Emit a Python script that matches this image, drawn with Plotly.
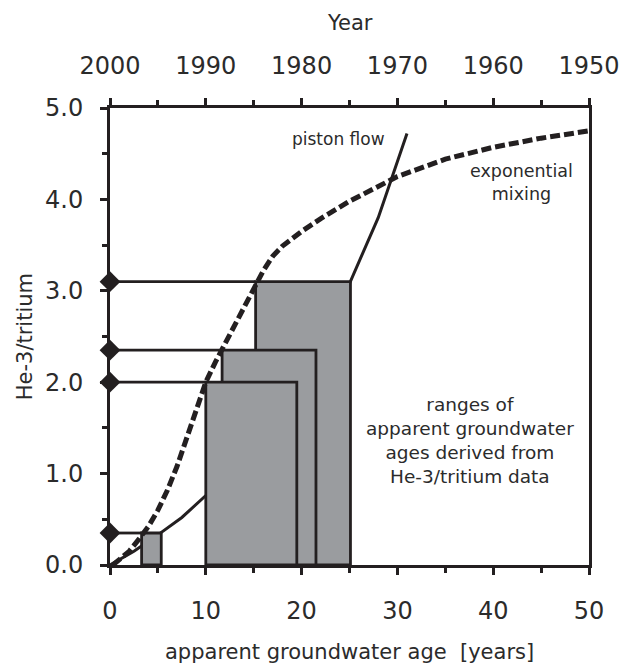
import plotly.graph_objects as go

# Piston-flow model: He-3/tritium ratio versus apparent age
piston_age = [0, 2.5, 5, 7.5, 10, 15, 20, 25, 28, 31]
piston_ratio = [0, 0.15, 0.33, 0.52, 0.76, 1.32, 2.08, 3.08, 3.80, 4.72]

# Exponential-mixing model curve
mix_age = [0.3, 1, 2, 3, 4, 5, 6, 7, 8, 9, 10, 11, 12, 13, 14, 15, 16, 17, 18, 19,
           20, 22, 25, 30, 35, 40, 45, 50]
mix_ratio = [0.0, 0.06, 0.15, 0.28, 0.42, 0.60, 0.82, 1.08, 1.38, 1.70, 2.00, 2.22,
             2.42, 2.63, 2.83, 3.02, 3.22, 3.38, 3.49, 3.57, 3.65, 3.79, 3.98, 4.25,
             4.44, 4.57, 4.67, 4.75]

# Measured ratios and the resulting apparent-age ranges (exp. mixing .. piston flow)
sample_ratio = [3.1, 2.35, 2.0, 0.35]
range_min_age = [15.2, 11.7, 10.0, 3.3]
range_max_age = [25.1, 21.5, 19.5, 5.35]

# Axis ticks
age_ticks = [0, 10, 20, 30, 40, 50]
year_ticks = [2000, 1990, 1980, 1970, 1960, 1950]
ratio_ticks = [0.0, 1.0, 2.0, 3.0, 4.0, 5.0]

INK = "#231f20"
TEXT = "#2b2b2b"
FILL = "#9a9c9f"
FONT = "DejaVu Sans"

fig = go.Figure()

# piston flow (partly hidden behind the age-range boxes)
fig.add_trace(go.Scatter(x=piston_age, y=piston_ratio, mode="lines",
                         line=dict(color=INK, width=3), hoverinfo="skip"))

# horizontal guides from the measured ratio to the youngest age
for r, a0 in zip(sample_ratio, range_min_age):
    fig.add_trace(go.Scatter(x=[0, a0], y=[r, r], mode="lines",
                             line=dict(color=INK, width=2.8), hoverinfo="skip"))

# age-range boxes, largest first so smaller ones sit on top
for r, a0, a1 in zip(sample_ratio, range_min_age, range_max_age):
    fig.add_trace(go.Scatter(x=[a0, a0, a1, a1, a0], y=[0, r, r, 0, 0],
                             mode="lines", fill="toself", fillcolor=FILL,
                             line=dict(color=INK, width=2.8), hoverinfo="skip"))

# exponential mixing curve
fig.add_trace(go.Scatter(x=mix_age, y=mix_ratio, mode="lines",
                         line=dict(color=INK, width=5, dash="10px,4px"),
                         hoverinfo="skip"))

# measured ratios on the y-axis
fig.add_trace(go.Scatter(x=[0] * len(sample_ratio), y=sample_ratio, mode="markers",
                         marker=dict(symbol="diamond", size=16, color=INK),
                         cliponaxis=False, hoverinfo="skip"))

# carrier for the calendar-year axis
fig.add_trace(go.Scatter(x=[year_ticks[0], year_ticks[-1]], y=[None, None],
                         xaxis="x2", mode="lines", hoverinfo="skip"))

axis_common = dict(showline=True, linecolor=INK, linewidth=3, showgrid=False,
                   zeroline=False, ticks="outside", ticklen=7, tickwidth=3,
                   tickcolor=INK, tickfont=dict(family=FONT, size=24, color=TEXT))
minor_ticks = dict(ticks="outside", ticklen=5, tickwidth=3, tickcolor=INK)

fig.update_layout(
    width=632, height=666,
    margin=dict(l=110, r=32, t=108, b=101),
    paper_bgcolor="white", plot_bgcolor="white",
    showlegend=False,
    xaxis=dict(range=[0, 50], tickvals=age_ticks, mirror=True,
               minor=dict(dtick=5, **minor_ticks), ticklabelstandoff=15,
               **axis_common),
    xaxis2=dict(range=[2000, 1950], tickvals=year_ticks, overlaying="x",
                side="top", anchor="y", minor=dict(dtick=5, **minor_ticks),
                ticklabelstandoff=14, **axis_common),
    yaxis=dict(range=[0, 5], tickvals=ratio_ticks, tickformat=".1f", mirror=True,
               minor=dict(dtick=0.5, **minor_ticks), ticklabelstandoff=12,
               **axis_common),
)

title_font = dict(family=FONT, size=21, color=TEXT)
fig.add_annotation(x=0.5, y=1.186, xref="paper", yref="paper", text="Year",
                   showarrow=False, font=title_font, yanchor="middle")
fig.add_annotation(x=0.5, y=-0.19, xref="paper", yref="paper",
                   text="apparent groundwater age  [years]",
                   showarrow=False, font=title_font, yanchor="middle")
fig.add_annotation(x=-0.178, y=0.5, xref="paper", yref="paper", text="He-3/tritium",
                   textangle=-90, showarrow=False, font=title_font,
                   xanchor="center", yanchor="middle")

note_font = dict(family=FONT, size=17, color=TEXT)
fig.add_annotation(x=23.8, y=4.66, xref="x", yref="y", text="piston flow",
                   showarrow=False, font=note_font)
fig.add_annotation(x=43.0, y=4.19, xref="x", yref="y",
                   text="exponential<br>mixing", showarrow=False,
                   font=dict(family=FONT, size=17.5, color=TEXT))
fig.add_annotation(x=37.6, y=1.36, xref="x", yref="y",
                   text="ranges of<br>apparent groundwater<br>ages derived from<br>He-3/tritium data",
                   showarrow=False, font=dict(family=FONT, size=18.5, color=TEXT))

fig.write_html("out.html")
